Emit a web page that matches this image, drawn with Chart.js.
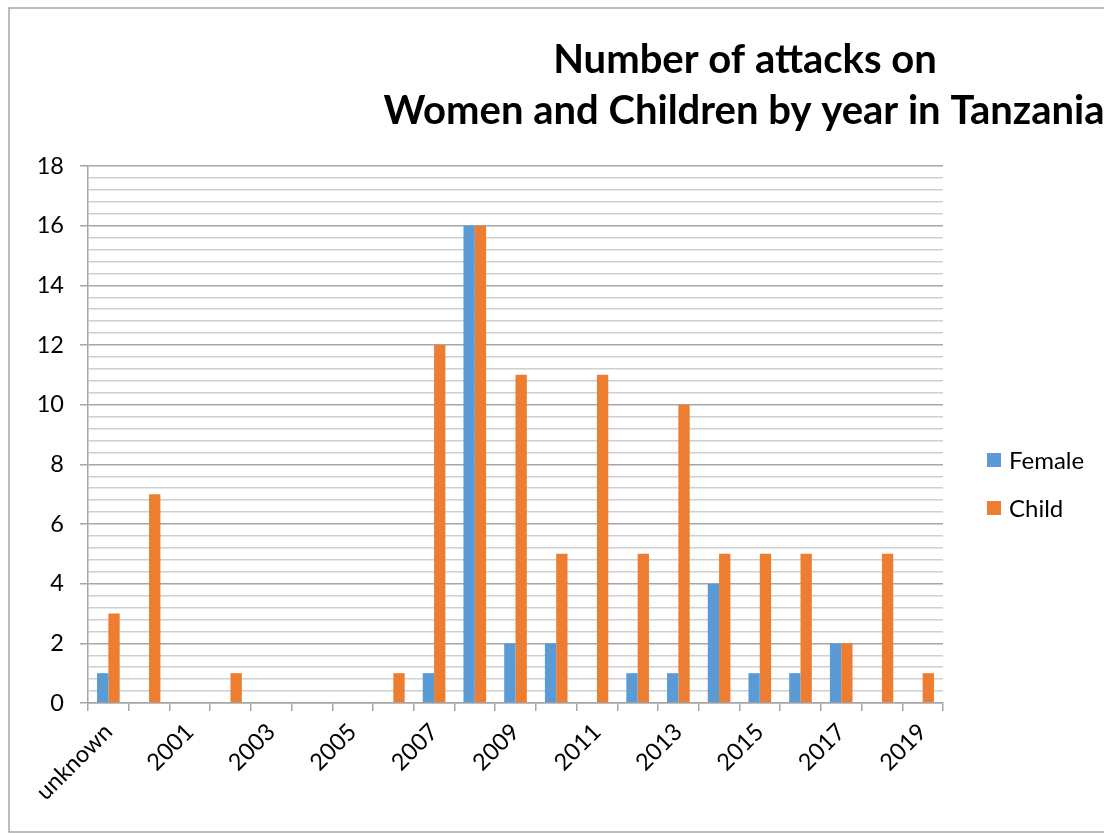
<!DOCTYPE html>
<html>
<head>
<meta charset="utf-8">
<script src="https://cdn.jsdelivr.net/npm/chart.js@4"></script>
<style>
  html, body { margin: 0; padding: 0; background: #ffffff; }
  #wrap { position: relative; width: 1104px; height: 833px; }
  canvas { display: block; }
</style>
</head>
<body>
<div id="wrap"><canvas id="chart" width="1104" height="833"></canvas></div>
<script>
// Attacks per year, split by victim group
const years = ['unknown', '2000', '2001', '2002', '2003', '2004', '2005', '2006', '2007', '2008',
               '2009', '2010', '2011', '2012', '2013', '2014', '2015', '2016', '2017', '2018', '2019'];
const female = [1, 0, 0, 0, 0, 0, 0, 0, 1, 16, 2, 2, 0, 1, 1, 4, 1, 1, 2, 0, 0];
const child  = [3, 7, 0, 1, 0, 0, 0, 1, 12, 16, 11, 5, 11, 5, 10, 5, 5, 5, 2, 5, 1];
const yMajorTicks = [0, 2, 4, 6, 8, 10, 12, 14, 16, 18];
const titleLines = ['Number of attacks on', 'Women and Children by year in Tanzania'];

const FONT = 'Lato, "Open Sans", sans-serif';
const BLUE = '#5B9BD5';
const ORANGE = '#ED7D31';

const isMajor = v => yMajorTicks.some(t => Math.abs(t - v) < 1e-6);

// Frame, two-line title and right-hand legend
const decorations = {
  id: 'decorations',
  beforeDraw(chart) {
    const ctx = chart.ctx;
    ctx.save();
    ctx.fillStyle = '#ffffff';
    ctx.fillRect(0, 0, chart.width, chart.height);
    ctx.strokeStyle = '#a6a6a6';
    ctx.lineWidth = 1.5;
    ctx.strokeRect(9, 8, chart.width + 20, 824);
    ctx.restore();
  },
  afterDraw(chart) {
    const ctx = chart.ctx;
    ctx.save();
    ctx.fillStyle = '#000000';
    ctx.font = 'bold 40px ' + FONT;
    ctx.textAlign = 'center';
    ctx.textBaseline = 'alphabetic';
    ctx.fillText(titleLines[0], 745, 73);
    ctx.fillText(titleLines[1], 744, 124);

    const items = chart.data.datasets.map(d => ({ label: d.label, color: d.backgroundColor }));
    ctx.font = '24px ' + FONT;
    ctx.textAlign = 'left';
    ctx.textBaseline = 'middle';
    items.forEach((it, i) => {
      const cy = 460 + i * 48;
      ctx.fillStyle = it.color;
      ctx.fillRect(987, cy - 7, 14, 14);
      ctx.fillStyle = '#000000';
      ctx.fillText(it.label, 1009, cy + 1);
    });
    ctx.restore();
  }
};

new Chart(document.getElementById('chart'), {
  type: 'bar',
  data: {
    labels: years,
    datasets: [
      { label: 'Female', data: female, backgroundColor: BLUE, borderWidth: 0 },
      { label: 'Child', data: child, backgroundColor: ORANGE, borderWidth: 0 }
    ]
  },
  options: {
    responsive: false,
    animation: false,
    layout: { padding: { left: 0, right: 161, top: 166, bottom: 0 } },
    plugins: {
      legend: { display: false },
      title: { display: false },
      tooltip: { enabled: false }
    },
    datasets: {
      bar: { categoryPercentage: 0.556, barPercentage: 1.0 }
    },
    scales: {
      x: {
        afterFit(scale) { scale.height = 130; },
        grid: {
          offset: true,
          drawOnChartArea: false,
          drawTicks: true,
          tickLength: 8,
          color: '#a6a6a6',
          lineWidth: 1.5
        },
        border: { display: true, color: '#a6a6a6', width: 1.5 },
        ticks: {
          autoSkip: false,
          maxRotation: 45,
          minRotation: 45,
          padding: 7,
          color: '#000000',
          font: { family: FONT, size: 23.5 },
          callback(value, index) { return index % 2 === 0 ? years[index] : ''; }
        }
      },
      y: {
        min: 0,
        max: 18,
        afterFit(scale) { scale.width = 88; },
        grid: {
          drawTicks: true,
          tickLength: 8,
          color: ctx => isMajor(ctx.tick.value) ? '#a6a6a6' : '#cfcfcf',
          tickColor: ctx => isMajor(ctx.tick.value) ? '#a6a6a6' : 'rgba(0,0,0,0)',
          lineWidth: 1.5
        },
        border: { display: true, color: '#a6a6a6', width: 1.5 },
        ticks: {
          stepSize: 0.4,
          autoSkip: false,
          padding: 16,
          color: '#000000',
          font: { family: FONT, size: 23.5 },
          callback(value) { return isMajor(value) ? String(Math.round(value)) : ''; }
        }
      }
    }
  },
  plugins: [decorations]
});
</script>
</body>
</html>
